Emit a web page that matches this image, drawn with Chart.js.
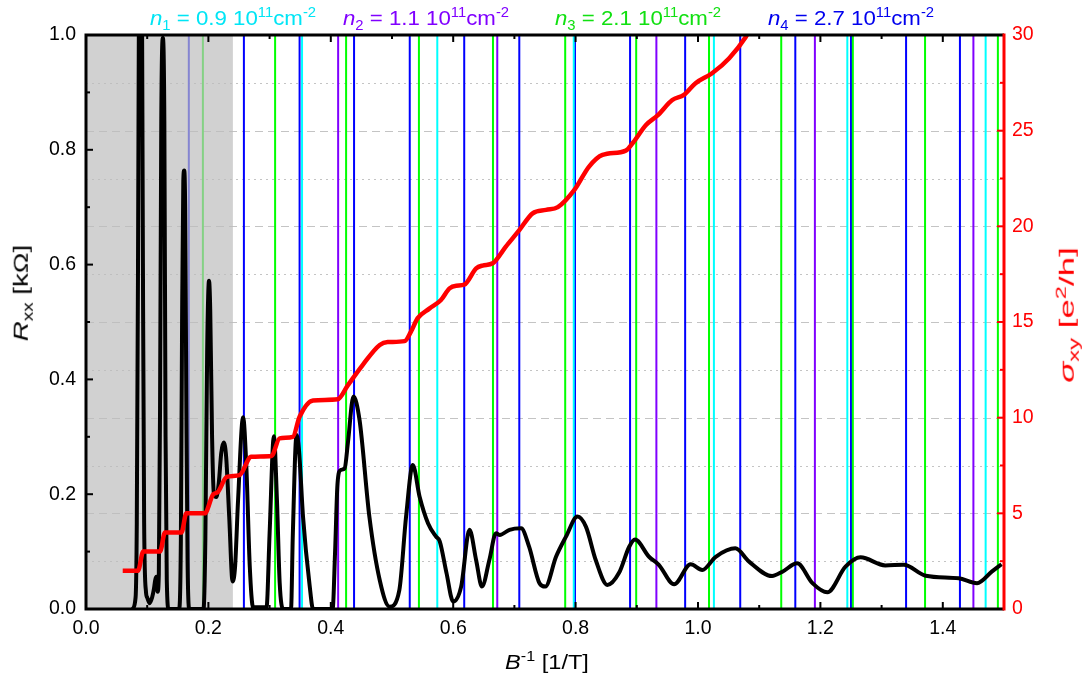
<!DOCTYPE html>
<html>
<head>
<meta charset="utf-8">
<script src="https://cdn.jsdelivr.net/npm/chart.js@4.4.1/dist/chart.umd.min.js"></script>
<style>
  body { margin: 0; background: #fff; }
  #wrap { position: relative; width: 1086px; height: 676px; font-family: "Liberation Sans", Arial, sans-serif; }
  canvas { position: absolute; left: 0; top: 0; }
  .lbl { position: absolute; font-size: 20.5px; white-space: nowrap; line-height: 1; }
  .lbl sup, .lbl sub { font-size: 14px; line-height: 0; }
  .top { font-size: 21px; transform: translate(-50%, -50%) scaleX(1.06); }
  .xt { transform: translate(-50%, -50%) scaleX(1.15); }
  .yl { transform: translate(-50%, -50%) rotate(-90deg) scaleX(1.35); }
  .yr { transform: translate(-50%, -50%) rotate(-90deg) scaleX(1.7); }
</style>
</head>
<body>
<div id="wrap">
  <canvas id="chart" width="1086" height="676"></canvas>
  <div class="lbl top" style="left:233px; top:17px; color:#00e5f5;"><i>n</i><sub>1</sub> = 0.9 10<sup>11</sup>cm<sup>-2</sup></div>
  <div class="lbl top" style="left:426px; top:17px; color:#8000ff;"><i>n</i><sub>2</sub> = 1.1 10<sup>11</sup>cm<sup>-2</sup></div>
  <div class="lbl top" style="left:638px; top:17px; color:#11e011;"><i>n</i><sub>3</sub> = 2.1 10<sup>11</sup>cm<sup>-2</sup></div>
  <div class="lbl top" style="left:851px; top:17px; color:#0000ee;"><i>n</i><sub>4</sub> = 2.7 10<sup>11</sup>cm<sup>-2</sup></div>
  <div class="lbl xt" style="left:547px; top:662px; color:#000;"><i>B</i><sup>-1</sup> [1/T]</div>
  <div class="lbl yl" style="left:21px; top:293px; color:#000;"><i>R</i><sub>xx</sub> [kΩ]</div>
  <div class="lbl yr" style="left:1067px; top:315px; color:#ff0000;"><i>σ</i><sub>xy</sub> [e<sup>2</sup>/h]</div>
</div>
<script>
// ----------------------
// DATA
// ----------------------
// Rxx [kOhm] vs 1/B
const rxxB = [0.076, 0.081, 0.083, 0.085, 0.087, 0.089, 0.091, 0.093, 0.095, 0.098, 0.100, 0.104, 0.108, 0.111, 0.113, 0.115, 0.117, 0.119,
  0.121, 0.123, 0.1255, 0.128, 0.130, 0.132, 0.135, 0.152, 0.155, 0.157, 0.159, 0.1605, 0.162, 0.164, 0.166, 0.169,
  0.192, 0.195, 0.198, 0.201, 0.203, 0.206, 0.209, 0.213, 0.217, 0.221, 0.225, 0.229, 0.234, 0.2395, 0.2436, 0.2485,
  0.2567, 0.262, 0.2676, 0.273, 0.295, 0.300, 0.307, 0.312, 0.3165, 0.322, 0.335, 0.338, 0.344, 0.348, 0.3546, 0.3655,
  0.371, 0.403, 0.407, 0.411, 0.416, 0.4226, 0.428, 0.437, 0.447, 0.463, 0.480, 0.496, 0.512, 0.523, 0.534, 0.545,
  0.559, 0.572, 0.578, 0.589, 0.600, 0.613, 0.6266, 0.6375, 0.647, 0.659, 0.670, 0.676, 0.692, 0.711, 0.724, 0.741,
  0.7505, 0.768, 0.7843, 0.803, 0.817, 0.833, 0.852, 0.871, 0.8876, 0.897, 0.920, 0.936, 0.961, 0.988, 1.007, 1.029,
  1.061, 1.083, 1.121, 1.138, 1.162, 1.187, 1.2113, 1.241, 1.2656, 1.306, 1.336, 1.372, 1.426, 1.456, 1.480, 1.496];
const rxxVal = [0, 0.02, 0.15, 0.6, 1.2, 1.4, 1.2, 0.6, 0.15, 0.03, 0.02, 0.01, 0.02, 0.035, 0.05, 0.056, 0.03, 0.06,
  0.35, 0.85, 0.995, 0.85, 0.3, 0.05, 0, 0, 0.12, 0.5, 0.745, 0.764, 0.7, 0.35, 0.08, 0,
  0, 0.12, 0.45, 0.572, 0.52, 0.3, 0.2, 0.195, 0.22, 0.272, 0.29, 0.265, 0.161, 0.048, 0.074, 0.19,
  0.334, 0.248, 0.074, 0.003, 0.003, 0.132, 0.301, 0.19, 0.045, 0, 0, 0.132, 0.303, 0.277, 0.161, 0.04,
  0, 0, 0.1, 0.219, 0.242, 0.245, 0.29, 0.37, 0.329, 0.161, 0.05, 0.004, 0.033, 0.161, 0.251, 0.196,
  0.149, 0.126, 0.118, 0.063, 0.013, 0.039, 0.138, 0.085, 0.039, 0.085, 0.132, 0.129, 0.138, 0.1405, 0.1085, 0.045,
  0.039, 0.091, 0.126, 0.161, 0.143, 0.085, 0.042, 0.063, 0.1085, 0.121, 0.091, 0.077, 0.043, 0.078, 0.068, 0.091,
  0.1057, 0.083, 0.0575, 0.065, 0.0796, 0.045, 0.029, 0.0737, 0.090, 0.076, 0.077, 0.058, 0.0534, 0.045, 0.065, 0.078];

// sigma_xy [e^2/h] vs 1/B
const sxyB = [0.060, 0.085, 0.0935, 0.121, 0.129, 0.156, 0.164, 0.194, 0.208, 0.215, 0.230, 0.251, 0.270, 0.303, 0.3165,
  0.338, 0.349, 0.371, 0.411, 0.428, 0.452, 0.480, 0.493, 0.5205, 0.531, 0.542, 0.561, 0.580, 0.594, 0.605, 0.618,
  0.6375, 0.648, 0.6646, 0.686, 0.708, 0.7298, 0.7517, 0.771, 0.798, 0.822, 0.844, 0.882, 0.893, 0.915, 0.934,
  0.958, 0.977, 0.996, 1.023, 1.051, 1.078, 1.090];
const sxyVal = [2, 2, 3, 3, 4, 4, 5, 5, 6, 6.1, 6.9, 7, 7.96, 8, 8.92,
  9, 10.05, 10.9, 10.96, 11.7, 12.75, 13.8, 13.95, 14.0, 14.5, 15.2, 15.7, 16.15, 16.76, 16.9, 16.95,
  17.8, 17.95, 18.07, 18.94, 19.8, 20.68, 20.86, 21.0, 21.9, 23.12, 23.73, 23.96, 24.34, 25.3, 25.8,
  26.6, 26.87, 27.48, 28.0, 28.79, 29.9, 30.6];

// Landau level positions (1/B) for each density
const n1Lines = [0.353, 0.574, 0.797, 1.026, 1.244, 1.470];
const n2Lines = [0.412, 0.672, 0.932, 1.191, 1.450];
const n3Lines = [0.191, 0.309, 0.425, 0.544, 0.665, 0.783, 0.899, 1.018, 1.136, 1.253, 1.371, 1.490];
const n4Lines = [0.168, 0.258, 0.349, 0.438, 0.529, 0.618, 0.708, 0.799, 0.889, 0.979, 1.069, 1.159, 1.250, 1.340, 1.428];

// shaded (excluded) low-field range
const shadeRange = [0, 0.24];

// ----------------------
// HELPERS
// ----------------------
function toPoints(xs, ys) {
  return xs.map((x, i) => ({ x: x, y: ys[i] }));
}

function verticalLines(positions) {
  return positions.flatMap((x) => [{ x: x, y: 0 }, { x: x, y: 1 }, { x: x, y: null }]);
}

function lineSet(positions, color) {
  return {
    data: verticalLines(positions),
    borderColor: color,
    borderWidth: 2,
    pointRadius: 0,
    yAxisID: "y",
    order: 4,
  };
}

// grid, inward ticks and frame
const axisDecor = {
  id: "axisDecor",
  beforeDatasetsDraw(chart) {
    const { ctx, chartArea: a, scales } = chart;
    ctx.save();
    ctx.lineWidth = 1;
    ctx.strokeStyle = "#c4c4c4";
    scales.y2.ticks.forEach((t) => {
      const py = Math.round(scales.y2.getPixelForValue(t.value)) + 0.5;
      ctx.setLineDash(Math.abs(t.value % 5) < 1e-6 ? [8, 5] : [2, 4]);
      ctx.beginPath();
      ctx.moveTo(a.left, py);
      ctx.lineTo(a.right, py);
      ctx.stroke();
    });
    ctx.restore();
  },
  afterDatasetsDraw(chart) {
    const { ctx, chartArea: a, scales } = chart;
    ctx.save();
    ctx.lineWidth = 2;
    ctx.strokeStyle = "#000";
    scales.x.ticks.forEach((t) => {
      const major = Math.round(t.value * 10) % 2 === 0;
      const len = major ? 7 : 4;
      const px = scales.x.getPixelForValue(t.value);
      ctx.beginPath();
      ctx.moveTo(px, a.bottom);
      ctx.lineTo(px, a.bottom - len);
      ctx.moveTo(px, a.top);
      ctx.lineTo(px, a.top + len);
      ctx.stroke();
    });
    scales.y.ticks.forEach((t) => {
      const major = Math.round(t.value * 10) % 2 === 0;
      const len = major ? 7 : 4;
      const py = scales.y.getPixelForValue(t.value);
      ctx.beginPath();
      ctx.moveTo(a.left, py);
      ctx.lineTo(a.left + len, py);
      ctx.stroke();
    });
    ctx.strokeStyle = "#ff0000";
    scales.y2.ticks.forEach((t) => {
      const major = Math.abs(t.value % 5) < 1e-6;
      const len = major ? 7 : 4;
      const py = scales.y2.getPixelForValue(t.value);
      ctx.beginPath();
      ctx.moveTo(a.right, py);
      ctx.lineTo(a.right - len, py);
      ctx.stroke();
    });
    // frame
    ctx.lineWidth = 3;
    ctx.strokeStyle = "#000";
    ctx.beginPath();
    ctx.moveTo(a.right, a.top);
    ctx.lineTo(a.left, a.top);
    ctx.lineTo(a.left, a.bottom);
    ctx.lineTo(a.right, a.bottom);
    ctx.stroke();
    ctx.strokeStyle = "#ff0000";
    ctx.beginPath();
    ctx.moveTo(a.right, a.top - 1.5);
    ctx.lineTo(a.right, a.bottom + 1.5);
    ctx.stroke();
    ctx.restore();
  },
};

// ----------------------
// CHART
// ----------------------
const tickFont = { family: "'Liberation Sans', Arial, sans-serif", size: 19.5 };

new Chart(document.getElementById("chart"), {
  type: "line",
  data: {
    datasets: [
      {
        data: toPoints(sxyB, sxyVal),
        borderColor: "#ff0000",
        borderWidth: 4.5,
        pointRadius: 0,
        cubicInterpolationMode: "monotone",
        yAxisID: "y2",
        order: 0,
      },
      {
        data: toPoints(rxxB, rxxVal),
        borderColor: "#000000",
        borderWidth: 4,
        pointRadius: 0,
        cubicInterpolationMode: "monotone",
        yAxisID: "y",
        order: 1,
      },
      {
        data: [{ x: shadeRange[0], y: 1 }, { x: shadeRange[1], y: 1 }],
        borderWidth: 0,
        borderColor: "rgba(0,0,0,0)",
        backgroundColor: "rgba(190,190,190,0.7)",
        fill: "origin",
        pointRadius: 0,
        yAxisID: "y",
        order: 2,
      },
      lineSet(n1Lines, "#00ffff"),
      lineSet(n2Lines, "#8000ff"),
      lineSet(n3Lines, "#00ff00"),
      lineSet(n4Lines, "#0000ff"),
    ],
  },
  options: {
    responsive: false,
    animation: false,
    layout: { padding: { top: 35, left: 0, right: 0, bottom: 0 } },
    plugins: { legend: { display: false }, tooltip: { enabled: false } },
    scales: {
      x: {
        type: "linear",
        min: 0,
        max: 1.5,
        border: { display: false },
        grid: { display: false, drawTicks: false },
        ticks: {
          stepSize: 0.1,
          autoSkip: false,
          maxRotation: 0,
          padding: 8,
          color: "#000",
          font: tickFont,
          callback: (v) => (Math.round(v * 10) % 2 === 0 ? v.toFixed(1) : ""),
        },
        afterFit: (s) => { s.height = 67; },
      },
      y: {
        position: "left",
        min: 0,
        max: 1,
        border: { display: false },
        grid: { display: false, drawTicks: false },
        ticks: {
          stepSize: 0.1,
          autoSkip: false,
          padding: 10,
          color: "#000",
          font: tickFont,
          callback: (v) => (Math.round(v * 10) % 2 === 0 ? v.toFixed(1) : ""),
        },
        afterFit: (s) => { s.width = 86; },
      },
      y2: {
        position: "right",
        min: 0,
        max: 30,
        border: { display: false },
        grid: { display: false, drawTicks: false },
        ticks: {
          stepSize: 2.5,
          autoSkip: false,
          padding: 8,
          color: "#ff0000",
          font: tickFont,
          callback: (v) => (Math.abs(v % 5) < 1e-6 ? String(v) : ""),
        },
        afterFit: (s) => { s.width = 82; },
      },
    },
  },
  plugins: [axisDecor],
});
</script>
</body>
</html>
